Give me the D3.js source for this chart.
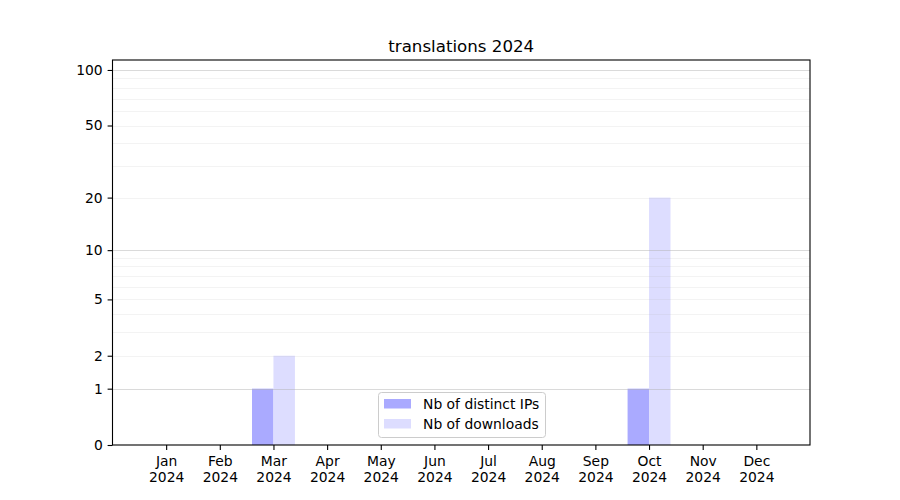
<!DOCTYPE html>
<html><head><meta charset="utf-8">
<script src="https://cdn.jsdelivr.net/npm/d3@7"></script>
<style>body{margin:0;background:#fff}svg{display:block}text{font-family:"DejaVu Sans",sans-serif;fill:#000}</style>
</head><body><svg id="c" width="900" height="500"></svg>
<script>
const months = ["Jan","Feb","Mar","Apr","May","Jun","Jul","Aug","Sep","Oct","Nov","Dec"];
const year = "2024";
const distinctIPs = [0,0,1,0,0,0,0,0,0,1,0,0];
const downloads = [0,0,2,0,0,0,0,0,0,20,0,0];
const yTickValues = [0,1,2,5,10,20,50,100];
const majorGrid = [1,10,100];
const minorGrid = [2,3,4,5,6,7,8,9,20,30,40,50,60,70,80,90];
const title = "translations 2024";
const seriesNames = ["Nb of distinct IPs","Nb of downloads"];
const colors = ["#aaaaff","#ddddff"];

const svg = d3.select("#c");
const L=112.5,R=810,T=60,B=445;
const FS = "13.89px";
const x = d3.scaleLinear().domain([-1,12]).range([L,R]);
const y = d3.scaleLog().domain([1,114.2]).range([B,T]);
const yv = v => y(v+1);
const bw = x(0.4)-x(0);

// bars
const g = svg.append("g");
g.selectAll("rect.ip").data(distinctIPs).join("rect")
  .attr("x",(d,i)=>x(i)-bw).attr("width",bw)
  .attr("y",d=>yv(d)).attr("height",d=>B-yv(d)).attr("fill",colors[0]);
g.selectAll("rect.dl").data(downloads).join("rect")
  .attr("x",(d,i)=>x(i)).attr("width",bw)
  .attr("y",d=>yv(d)).attr("height",d=>B-yv(d)).attr("fill",colors[1]);

// grid
svg.append("g").selectAll("line").data(minorGrid).join("line")
  .attr("x1",L).attr("x2",R).attr("y1",d=>Math.round(yv(d))+0.5).attr("y2",d=>Math.round(yv(d))+0.5)
  .attr("stroke","#b0b0b0").attr("stroke-opacity",0.2).attr("stroke-width",0.8);
svg.append("g").selectAll("line").data(majorGrid).join("line")
  .attr("x1",L).attr("x2",R).attr("y1",d=>Math.round(yv(d))+0.5).attr("y2",d=>Math.round(yv(d))+0.5)
  .attr("stroke","#b0b0b0").attr("stroke-opacity",0.6).attr("stroke-width",0.8);

// y axis
const yAxis = d3.axisLeft(y).tickValues(yTickValues.map(v=>v+1)).tickFormat(d=>String(Math.round(d-1))).tickSize(4.9).tickPadding(4.9);
const ya = svg.append("g").attr("transform",`translate(${L},0)`).call(yAxis);
ya.select(".domain").remove();
ya.selectAll("line").attr("stroke","#000").attr("stroke-width",1.1);
ya.selectAll("text").attr("font-size",FS).attr("font-family","DejaVu Sans").attr("fill","#000");

// x axis
const xAxis = d3.axisBottom(x).tickValues(d3.range(12)).tickFormat(()=>"").tickSize(4.9);
const xa = svg.append("g").attr("transform",`translate(0,${B})`).call(xAxis);
xa.select(".domain").remove();
xa.selectAll("line").attr("stroke","#000").attr("stroke-width",1.1);
xa.selectAll(".tick").each(function(d){
  const t = d3.select(this).append("text").attr("text-anchor","middle").attr("font-size",FS).attr("fill","#000");
  t.append("tspan").attr("x",0).attr("y",21).text(months[d]);
  t.append("tspan").attr("x",0).attr("y",37).text(year);
});

// frame
svg.append("rect").attr("x",L).attr("y",T).attr("width",R-L).attr("height",B-T)
  .attr("fill","none").attr("stroke","#000").attr("stroke-width",1.1);

// title
svg.append("text").attr("x",(L+R)/2).attr("y",T-8).attr("text-anchor","middle").attr("font-size","16.67px").text(title);

// legend
const lg = svg.append("g").attr("transform","translate(378,392)");
lg.append("rect").attr("x",0.5).attr("y",0.5).attr("width",167).attr("height",45).attr("rx",3)
  .attr("fill","#fff").attr("fill-opacity",0.8).attr("stroke","#cccccc").attr("stroke-width",1);
seriesNames.forEach((n,i)=>{
  lg.append("rect").attr("x",6).attr("y",7+i*20).attr("width",27).attr("height",9.5).attr("fill",colors[i]);
  lg.append("text").attr("x",45).attr("y",17+i*20).attr("font-size",FS).text(n);
});
</script></body></html>
